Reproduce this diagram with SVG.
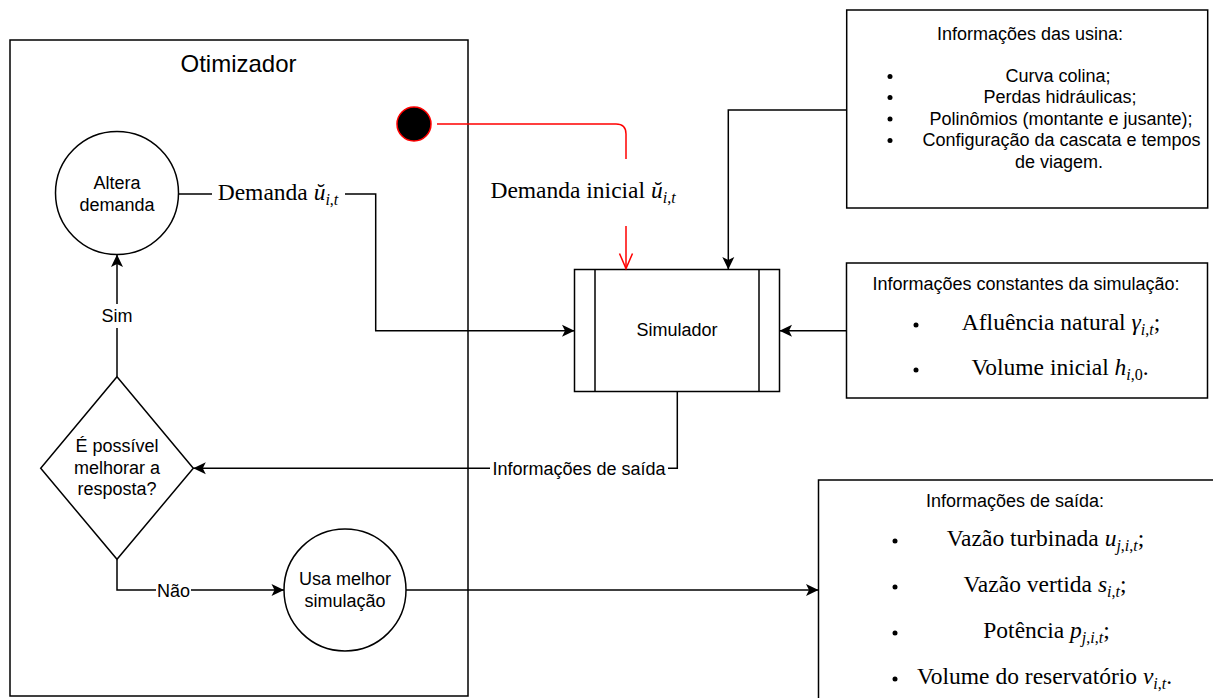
<svg xmlns="http://www.w3.org/2000/svg" width="1213" height="698" viewBox="0 0 1213 698">
<style>
.s{font-family:"Liberation Sans",Arial,sans-serif;font-size:18px;fill:#000}
.t{font-family:"Liberation Sans",Arial,sans-serif;font-size:24px;fill:#000}
.m{font-family:"Liberation Serif","Times New Roman",serif;font-size:23.5px;fill:#000}
.i{font-style:italic}
.sub{font-size:16px}
.shape{fill:#fff;stroke:#000;stroke-width:1.5}
.edge{fill:none;stroke:#000;stroke-width:1.5}
.lbg{fill:#fff;stroke:none}
</style>
<defs>
<marker id="ah" markerUnits="userSpaceOnUse" markerWidth="16" markerHeight="16" viewBox="0 0 16 16" refX="14" refY="8" orient="auto">
<path d="M14,8 L1.5,2 L4.5,8 L1.5,14 Z" fill="#000"/>
</marker>
<marker id="ahr" markerUnits="userSpaceOnUse" markerWidth="18" markerHeight="18" viewBox="0 0 18 18" refX="16" refY="9" orient="auto">
<path d="M1,2.5 L16,9 L1,15.5" fill="none" stroke="#ff0000" stroke-width="1.5"/>
</marker>
</defs>
<rect width="1213" height="698" fill="#fff"/>

<g id="otimizador">
<rect class="shape" x="10" y="40" width="458" height="656" fill="none"/>
<text class="t" x="238.5" y="72" text-anchor="middle">Otimizador</text>
</g>

<g id="inicio">
<circle cx="414" cy="124" r="17" fill="#000" stroke="#ff0000" stroke-width="1.5"/>
</g>

<g id="altera-demanda">
<circle class="shape" cx="117" cy="193" r="61.5"/>
<text class="s" x="117" y="189" text-anchor="middle">Altera</text>
<text class="s" x="117" y="211" text-anchor="middle">demanda</text>
</g>

<g id="decisao">
<polygon class="shape" points="117,376.7 193.3,468.3 117,559.3 40.7,468.3"/>
<text class="s" x="117" y="452" text-anchor="middle">É possível</text>
<text class="s" x="117" y="473.5" text-anchor="middle">melhorar a</text>
<text class="s" x="117" y="495" text-anchor="middle">resposta?</text>
</g>

<g id="usa-melhor">
<circle class="shape" cx="345" cy="590" r="61"/>
<text class="s" x="345" y="585" text-anchor="middle">Usa melhor</text>
<text class="s" x="345" y="607" text-anchor="middle">simulação</text>
</g>

<g id="simulador">
<rect class="shape" x="574.5" y="269.5" width="205" height="122"/>
<line class="edge" x1="595" y1="269.5" x2="595" y2="391.5"/>
<line class="edge" x1="759" y1="269.5" x2="759" y2="391.5"/>
<text class="s" x="677" y="336" text-anchor="middle">Simulador</text>
</g>

<g id="info-usina">
<rect class="shape" x="846.7" y="10" width="361" height="198"/>
<text class="s" x="1030" y="40" text-anchor="middle">Informações das usina:</text>
<circle cx="890" cy="76.5" r="2.5"/>
<circle cx="890" cy="97.5" r="2.5"/>
<circle cx="890" cy="119" r="2.5"/>
<circle cx="890" cy="140.5" r="2.5"/>
<text class="s" x="1058" y="82" text-anchor="middle">Curva colina;</text>
<text class="s" x="1060" y="103" text-anchor="middle">Perdas hidráulicas;</text>
<text class="s" x="1061" y="124.5" text-anchor="middle">Polinômios (montante e jusante);</text>
<text class="s" x="1061.5" y="146" text-anchor="middle">Configuração da cascata e tempos</text>
<text class="s" x="1059" y="167.5" text-anchor="middle">de viagem.</text>
</g>

<g id="info-constantes">
<rect class="shape" x="846.5" y="263" width="361" height="135"/>
<text class="s" x="1026" y="290" text-anchor="middle">Informações constantes da simulação:</text>
<circle cx="916" cy="325" r="2.5"/>
<circle cx="916" cy="370" r="2.5"/>
<text class="m" x="1061" y="330" text-anchor="middle">Afluência natural <tspan class="i">γ</tspan><tspan class="sub" dy="5"><tspan class="i">i</tspan>,<tspan class="i">t</tspan></tspan><tspan dy="-5">;</tspan></text>
<text class="m" x="1060" y="375" text-anchor="middle">Volume inicial <tspan class="i">h</tspan><tspan class="sub" dy="5"><tspan class="i">i</tspan>,0</tspan><tspan dy="-5">.</tspan></text>
</g>

<g id="info-saida">
<rect class="shape" x="818.5" y="480" width="400" height="230"/>
<text class="s" x="1015" y="507" text-anchor="middle">Informações de saída:</text>
<circle cx="895" cy="541" r="2.5"/>
<circle cx="895" cy="587" r="2.5"/>
<circle cx="895" cy="633" r="2.5"/>
<circle cx="895" cy="679" r="2.5"/>
<text class="m" x="1045.5" y="546" text-anchor="middle">Vazão turbinada <tspan class="i">u</tspan><tspan class="sub" dy="5"><tspan class="i">j</tspan>,<tspan class="i">i</tspan>,<tspan class="i">t</tspan></tspan><tspan dy="-5">;</tspan></text>
<text class="m" x="1045" y="592" text-anchor="middle">Vazão vertida <tspan class="i">s</tspan><tspan class="sub" dy="5"><tspan class="i">i</tspan>,<tspan class="i">t</tspan></tspan><tspan dy="-5">;</tspan></text>
<text class="m" x="1046.5" y="638" text-anchor="middle">Potência <tspan class="i">p</tspan><tspan class="sub" dy="5"><tspan class="i">j</tspan>,<tspan class="i">i</tspan>,<tspan class="i">t</tspan></tspan><tspan dy="-5">;</tspan></text>
<text class="m" x="1044.5" y="684" text-anchor="middle">Volume do reservatório <tspan class="i">v</tspan><tspan class="sub" dy="5"><tspan class="i">i</tspan>,<tspan class="i">t</tspan></tspan><tspan dy="-5">.</tspan></text>
</g>

<g id="connectors">
<path d="M437,124 H616 Q626,124 626,134 V268.5" fill="none" stroke="#ff0000" stroke-width="1.5" marker-end="url(#ahr)"/>
<rect class="lbg" x="484" y="159" width="200" height="67"/>
<text class="m" x="583" y="198" text-anchor="middle">Demanda inicial <tspan class="i">ŭ</tspan><tspan class="sub" dy="5"><tspan class="i">i</tspan>,<tspan class="i">t</tspan></tspan></text>

<path class="edge" d="M178.5,194 H375.7 V330.7 H574.5" marker-end="url(#ah)"/>
<rect class="lbg" x="212" y="180" width="133" height="28"/>
<text class="m" x="278" y="200" text-anchor="middle">Demanda <tspan class="i">ŭ</tspan><tspan class="sub" dy="5"><tspan class="i">i</tspan>,<tspan class="i">t</tspan></tspan></text>

<path class="edge" d="M846.7,110 H728.3 V269.5" marker-end="url(#ah)"/>
<path class="edge" d="M846.5,330.7 H779.5" marker-end="url(#ah)"/>

<path class="edge" d="M677.3,391.5 V468.3 H193.3" marker-end="url(#ah)"/>
<rect class="lbg" x="490" y="457" width="178" height="22"/>
<text class="s" x="579" y="474.5" text-anchor="middle">Informações de saída</text>

<path class="edge" d="M117,376.7 V254.5" marker-end="url(#ah)"/>
<rect class="lbg" x="100" y="304" width="34" height="24"/>
<text class="s" x="117" y="322" text-anchor="middle">Sim</text>

<path class="edge" d="M117,559.3 V590 H284" marker-end="url(#ah)"/>
<rect class="lbg" x="156" y="579" width="35" height="22"/>
<text class="s" x="173.5" y="596.5" text-anchor="middle">Não</text>

<path class="edge" d="M406,590 H818.5" marker-end="url(#ah)"/>
</g>
</svg>
